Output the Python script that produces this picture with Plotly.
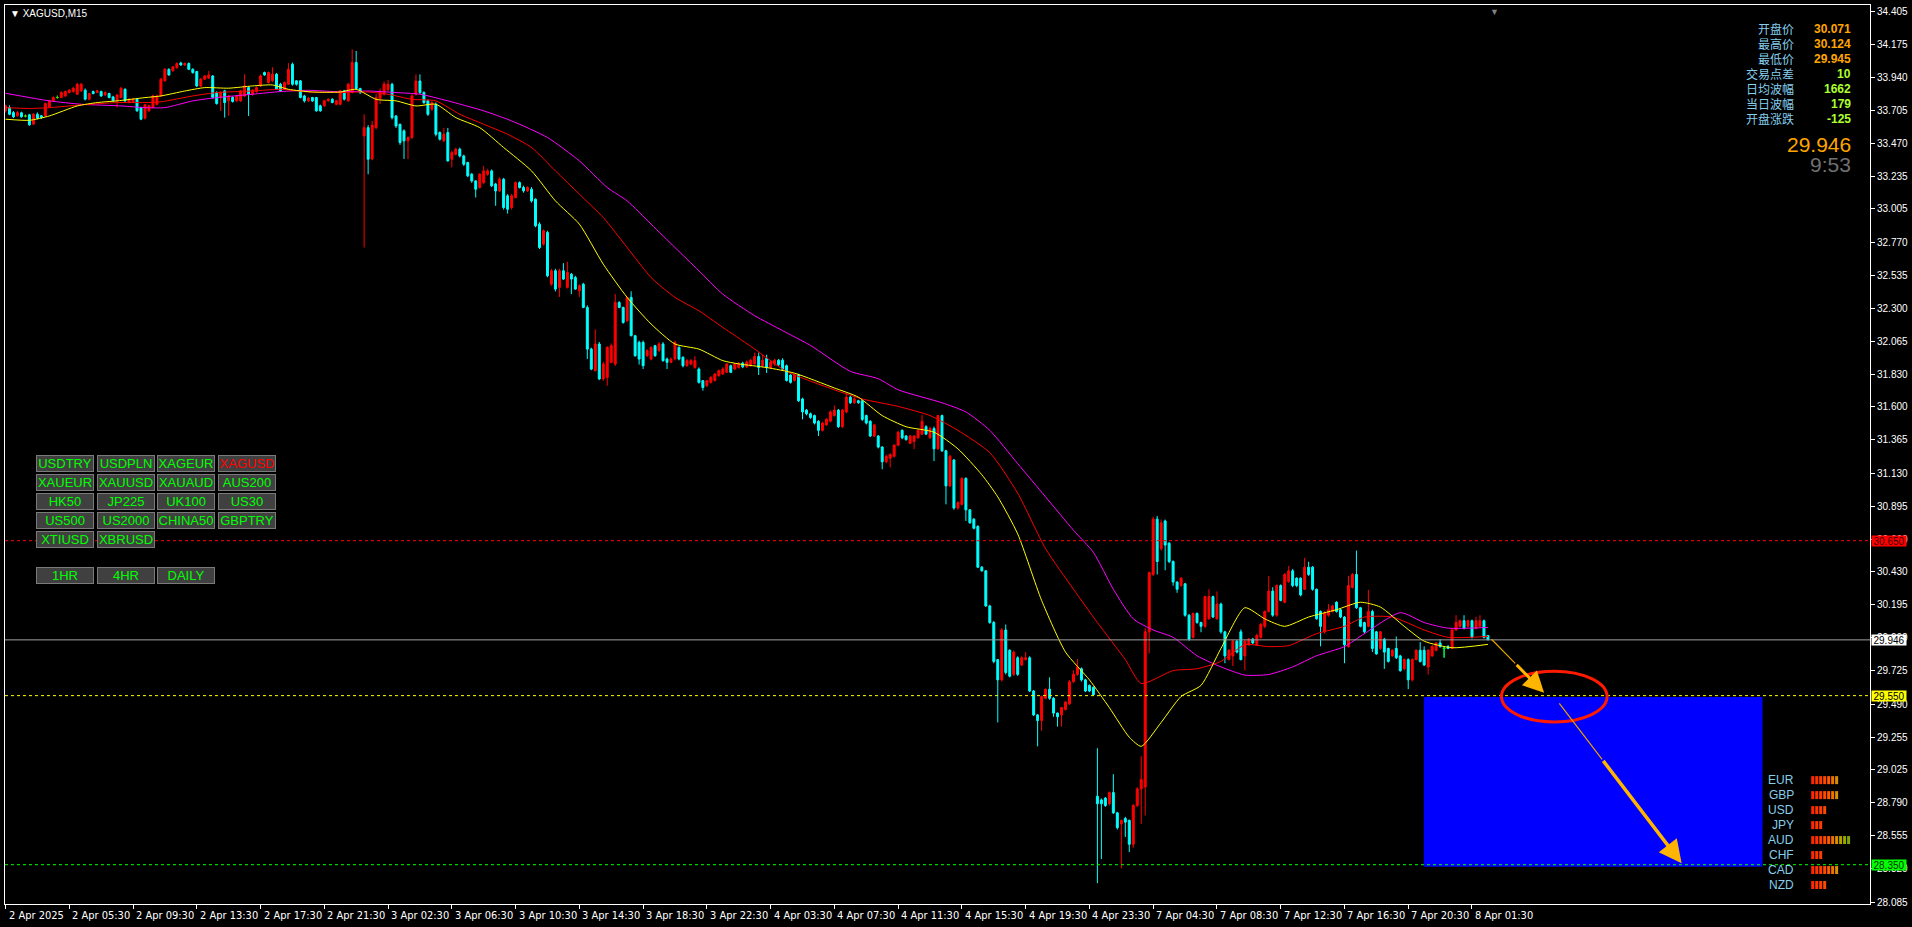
import plotly.graph_objects as go

# ---------------- data ----------------
opens = [
33.701,33.725,33.689,33.666,33.687,33.664,33.673,33.607,33.677,33.666,
33.666,33.729,33.772,33.796,33.796,33.807,33.831,33.838,33.819,33.843,
33.848,33.784,33.838,33.831,33.838,33.814,33.824,33.800,33.772,33.796,
33.855,33.760,33.765,33.784,33.725,33.649,33.701,33.725,33.748,33.807,
33.914,33.996,33.985,34.008,34.041,34.027,34.037,33.996,33.980,33.878,
33.926,33.933,33.949,33.831,33.796,33.843,33.772,33.796,33.772,33.772,
33.807,33.866,33.819,33.838,33.878,33.973,33.902,33.914,33.961,33.890,
33.855,33.890,34.032,33.914,33.914,33.807,33.772,33.796,33.796,33.737,
33.737,33.772,33.784,33.748,33.748,33.843,33.772,33.831,34.044,33.860,
33.523,33.582,33.360,33.582,33.790,33.819,33.850,33.890,33.665,33.606,
33.559,33.488,33.512,33.819,33.913,33.831,33.772,33.713,33.748,33.547,
33.488,33.547,33.358,33.393,33.429,33.381,33.334,33.251,33.204,33.157,
33.192,33.251,33.275,33.181,33.133,33.216,33.098,33.015,33.086,33.192,
33.157,33.133,33.145,33.074,32.897,32.755,32.838,32.471,32.566,32.448,
32.566,32.448,32.542,32.518,32.424,32.471,32.306,32.010,31.857,32.046,
31.798,31.809,31.916,31.904,32.341,32.306,32.211,32.377,32.105,32.058,
32.058,31.963,31.939,32.034,31.999,32.046,31.939,31.916,31.940,32.022,
31.951,31.892,31.904,31.880,31.868,31.786,31.750,31.774,31.786,31.821,
31.833,31.845,31.892,31.868,31.879,31.910,31.884,31.892,31.905,31.957,
31.892,31.944,31.879,31.905,31.931,31.931,31.892,31.826,31.787,31.826,
31.656,31.577,31.551,31.538,31.498,31.433,31.472,31.498,31.538,31.577,
31.459,31.564,31.669,31.629,31.643,31.643,31.538,31.498,31.393,31.393,
31.315,31.210,31.236,31.249,31.328,31.433,31.393,31.341,31.354,31.380,
31.406,31.459,31.380,31.446,31.302,31.538,31.288,31.039,31.223,30.882,
30.908,31.092,30.869,30.803,30.751,30.462,30.436,30.187,30.069,29.806,
29.662,30.016,29.872,29.701,29.819,29.767,29.806,29.819,29.583,29.413,
29.373,29.531,29.596,29.531,29.426,29.413,29.452,29.492,29.649,29.701,
29.741,29.662,29.622,29.609,28.836,28.810,28.823,28.783,28.862,28.718,
28.639,28.678,28.665,28.495,28.770,28.888,28.901,30.003,30.410,30.803,
30.593,30.790,30.632,30.502,30.357,30.331,30.344,30.121,29.964,30.134,
30.069,30.042,30.095,30.253,30.095,30.200,30.003,29.806,29.832,29.937,
30.003,29.832,29.911,29.951,29.911,29.964,30.042,30.147,30.292,30.121,
30.331,30.213,30.360,30.436,30.384,30.384,30.305,30.462,30.462,30.305,
30.147,30.003,30.121,30.147,30.213,30.160,30.108,29.898,30.318,30.410,
30.174,30.069,30.042,30.147,30.003,29.885,29.951,29.885,29.832,29.885,
29.832,29.741,29.806,29.662,29.806,29.872,29.872,29.754,29.832,29.872,
29.924,29.885,29.898,29.885,30.016,30.042,30.082,30.042,30.082,30.029,
30.042,30.082,29.977]

highs = [
33.745,33.740,33.700,33.700,33.695,33.675,33.680,33.685,33.690,33.672,
33.760,33.780,33.805,33.810,33.840,33.845,33.855,33.870,33.900,33.900,
33.860,33.830,33.845,33.850,33.845,33.840,33.830,33.808,33.820,33.870,
33.860,33.790,33.790,33.790,33.730,33.750,33.745,33.815,33.815,33.935,
34.005,34.003,34.020,34.045,34.050,34.045,34.045,34.003,33.985,33.935,
33.955,33.985,33.955,33.840,33.840,33.850,33.815,33.805,33.815,33.850,
33.961,33.875,33.855,33.875,33.960,33.980,33.980,34.010,33.970,33.900,
33.910,34.040,34.044,33.920,33.920,33.815,33.800,33.800,33.800,33.745,
33.780,33.790,33.790,33.780,33.850,33.850,33.900,34.138,34.126,33.865,
33.677,33.600,33.630,33.820,33.860,33.910,33.920,33.900,33.670,33.610,
33.570,33.520,33.820,33.960,33.960,33.840,33.780,33.770,33.760,33.555,
33.580,33.580,33.420,33.440,33.440,33.390,33.340,33.260,33.210,33.260,
33.310,33.290,33.285,33.190,33.230,33.225,33.110,33.110,33.200,33.200,
33.170,33.165,33.160,33.080,32.910,32.860,32.850,32.580,32.580,32.580,
32.620,32.630,32.550,32.530,32.470,32.480,32.320,32.020,32.150,32.060,
31.920,32.030,32.050,32.400,32.350,32.310,32.380,32.420,32.110,32.070,
32.070,32.010,32.030,32.040,32.060,32.060,31.950,31.950,32.070,32.030,
31.960,31.940,31.940,31.960,31.880,31.790,31.790,31.820,31.840,31.865,
31.880,31.910,31.900,31.910,31.920,31.920,31.930,31.940,31.985,31.985,
31.970,31.970,31.930,31.940,31.940,31.945,31.900,31.830,31.835,31.835,
31.665,31.585,31.560,31.545,31.505,31.495,31.520,31.575,31.610,31.585,
31.585,31.700,31.680,31.670,31.650,31.650,31.545,31.505,31.480,31.400,
31.320,31.260,31.270,31.335,31.430,31.440,31.400,31.400,31.400,31.440,
31.543,31.470,31.460,31.460,31.543,31.545,31.295,31.260,31.230,30.930,
31.100,31.100,30.875,30.810,30.760,30.470,30.440,30.195,30.080,29.810,
30.030,30.055,29.880,29.870,29.830,29.830,29.860,29.830,29.590,29.420,
29.550,29.600,29.680,29.540,29.430,29.470,29.510,29.660,29.730,29.810,
29.750,29.670,29.630,29.615,29.177,28.820,28.830,28.870,28.992,28.725,
28.670,28.690,28.670,28.780,28.900,29.120,30.030,30.430,30.820,30.826,
30.800,30.800,30.640,30.510,30.360,30.390,30.350,30.130,30.140,30.140,
30.075,30.260,30.305,30.260,30.290,30.210,30.010,29.880,29.945,29.945,
30.020,29.945,29.960,29.960,29.990,30.065,30.155,30.400,30.320,30.340,
30.340,30.420,30.470,30.450,30.390,30.390,30.528,30.500,30.470,30.310,
30.155,30.150,30.200,30.195,30.220,30.170,30.115,30.400,30.420,30.580,
30.180,30.075,30.300,30.160,30.010,30.010,29.960,29.890,29.880,29.970,
29.840,29.815,29.815,29.815,29.880,29.930,29.900,29.880,29.910,29.930,
29.950,29.900,29.910,30.025,30.121,30.090,30.121,30.090,30.090,30.110,
30.121,30.090,29.980]

lows = [
33.690,33.670,33.650,33.660,33.652,33.655,33.595,33.600,33.640,33.645,
33.660,33.725,33.765,33.788,33.790,33.800,33.825,33.830,33.815,33.835,
33.775,33.776,33.818,33.826,33.800,33.808,33.790,33.765,33.725,33.790,
33.765,33.755,33.758,33.695,33.635,33.640,33.695,33.720,33.740,33.800,
33.910,33.950,33.980,34.000,34.020,34.020,33.990,33.965,33.870,33.870,
33.920,33.928,33.790,33.745,33.700,33.653,33.665,33.760,33.765,33.765,
33.800,33.665,33.810,33.830,33.870,33.950,33.895,33.905,33.850,33.835,
33.850,33.885,33.880,33.880,33.790,33.760,33.765,33.765,33.695,33.695,
33.730,33.765,33.755,33.740,33.740,33.775,33.765,33.825,33.850,33.820,
32.731,33.251,33.350,33.570,33.750,33.810,33.840,33.640,33.580,33.460,
33.360,33.358,33.500,33.810,33.820,33.750,33.665,33.700,33.520,33.490,
33.480,33.340,33.300,33.385,33.370,33.310,33.230,33.190,33.086,33.150,
33.180,33.240,33.160,33.027,33.125,33.000,32.972,33.000,33.080,33.150,
33.120,33.125,33.050,32.875,32.720,32.745,32.520,32.460,32.420,32.380,
32.500,32.440,32.400,32.430,32.380,32.300,31.940,31.860,31.850,31.790,
31.786,31.750,31.910,31.890,32.300,32.190,32.200,32.100,31.955,31.900,
31.868,31.955,31.930,31.955,31.990,31.920,31.868,31.910,31.930,31.930,
31.880,31.885,31.895,31.870,31.765,31.715,31.740,31.765,31.780,31.815,
31.828,31.840,31.840,31.860,31.870,31.875,31.875,31.885,31.900,31.826,
31.880,31.840,31.870,31.890,31.890,31.860,31.780,31.765,31.780,31.635,
31.511,31.540,31.515,31.475,31.393,31.425,31.465,31.490,31.530,31.450,
31.450,31.555,31.620,31.620,31.620,31.500,31.475,31.385,31.385,31.305,
31.157,31.200,31.170,31.240,31.320,31.370,31.360,31.335,31.300,31.375,
31.400,31.400,31.375,31.215,31.295,31.280,30.908,31.030,30.870,30.870,
30.900,30.790,30.770,30.730,30.455,30.430,30.180,30.060,29.780,29.360,
29.650,29.700,29.680,29.690,29.690,29.760,29.800,29.575,29.405,29.190,
29.300,29.525,29.520,29.400,29.330,29.330,29.445,29.485,29.640,29.690,
29.650,29.575,29.575,29.550,28.219,28.390,28.760,28.770,28.710,28.600,
28.324,28.547,28.440,28.470,28.760,28.640,28.700,29.850,30.400,30.410,
30.580,30.440,30.490,30.330,30.280,30.320,30.110,29.940,29.955,30.060,
30.000,30.030,30.090,30.100,30.090,29.990,29.780,29.800,29.760,29.850,
29.800,29.730,29.905,29.915,29.905,29.955,30.030,30.140,30.110,30.110,
30.220,30.205,30.350,30.320,30.320,30.255,30.300,30.400,30.295,30.090,
29.900,29.990,30.110,30.140,30.140,30.100,29.780,29.890,30.310,30.165,
30.035,29.990,30.035,29.860,29.840,29.875,29.740,29.785,29.825,29.810,
29.720,29.730,29.596,29.650,29.800,29.785,29.760,29.700,29.825,29.865,
29.890,29.820,29.880,29.880,30.010,30.035,30.020,30.035,29.955,30.020,
30.035,29.955,29.945]

closes = [
33.737,33.677,33.659,33.689,33.659,33.664,33.602,33.677,33.649,33.654,
33.753,33.772,33.796,33.796,33.831,33.838,33.848,33.862,33.890,33.890,
33.784,33.824,33.824,33.843,33.807,33.831,33.796,33.772,33.814,33.862,
33.772,33.784,33.784,33.701,33.642,33.744,33.737,33.807,33.807,33.926,
33.996,33.956,34.013,34.037,34.027,34.037,33.996,33.973,33.878,33.926,
33.949,33.956,33.796,33.753,33.831,33.760,33.807,33.767,33.807,33.843,
33.878,33.819,33.848,33.866,33.949,33.956,33.973,33.961,33.855,33.843,
33.902,33.996,33.890,33.890,33.796,33.772,33.791,33.772,33.701,33.701,
33.772,33.784,33.760,33.772,33.843,33.784,33.890,34.044,33.860,33.830,
33.582,33.358,33.600,33.795,33.840,33.890,33.890,33.653,33.594,33.476,
33.488,33.512,33.807,33.913,33.831,33.760,33.677,33.760,33.535,33.500,
33.535,33.346,33.405,33.429,33.381,33.322,33.240,33.204,33.145,33.251,
33.275,33.275,33.169,33.133,33.216,33.015,33.003,33.098,33.192,33.157,
33.133,33.157,33.062,32.885,32.731,32.850,32.530,32.566,32.436,32.566,
32.507,32.554,32.507,32.436,32.460,32.306,32.010,31.868,32.046,31.798,
31.904,32.022,32.034,32.341,32.306,32.199,32.377,32.105,31.963,31.939,
31.892,31.999,32.022,31.963,32.046,31.928,31.916,31.939,32.058,31.939,
31.892,31.928,31.928,31.928,31.774,31.738,31.786,31.809,31.833,31.857,
31.868,31.904,31.845,31.904,31.905,31.884,31.918,31.931,31.957,31.879,
31.931,31.879,31.918,31.931,31.900,31.866,31.787,31.774,31.826,31.643,
31.564,31.551,31.525,31.485,31.433,31.485,31.511,31.564,31.577,31.459,
31.577,31.669,31.629,31.656,31.630,31.511,31.485,31.393,31.472,31.315,
31.210,31.249,31.262,31.328,31.420,31.380,31.367,31.393,31.393,31.433,
31.498,31.406,31.446,31.302,31.538,31.288,31.039,31.249,30.882,30.921,
31.092,30.869,30.777,30.738,30.462,30.436,30.187,30.069,29.793,29.662,
30.016,29.714,29.688,29.859,29.701,29.819,29.819,29.583,29.413,29.373,
29.544,29.596,29.531,29.426,29.400,29.465,29.505,29.649,29.701,29.754,
29.662,29.583,29.583,29.557,28.783,28.783,28.770,28.862,28.718,28.613,
28.665,28.652,28.495,28.770,28.888,28.954,30.003,30.423,30.803,30.502,
30.777,30.619,30.502,30.357,30.305,30.384,30.121,29.951,30.134,30.069,
30.042,30.253,30.253,30.108,30.200,30.003,29.832,29.872,29.937,29.859,
29.806,29.937,29.951,29.924,29.977,30.056,30.147,30.292,30.121,30.331,
30.226,30.410,30.436,30.331,30.331,30.265,30.462,30.410,30.305,30.095,
30.042,30.134,30.160,30.187,30.147,30.108,29.911,30.331,30.410,30.174,
30.042,30.003,30.147,29.885,29.846,30.003,29.859,29.793,29.872,29.819,
29.727,29.806,29.662,29.806,29.872,29.793,29.767,29.872,29.898,29.924,
29.898,29.885,29.885,30.016,30.069,30.082,30.029,30.082,29.964,30.082,
30.082,29.964,29.946]

doji_idx = [5, 13, 361]

yellow_idx = [0,6,11,18,23,28,35,39,45,50,56,62,67,71,77,84,88,93,98,103,108,113,119,125,132,138,144,150,156,162,
              168,174,180,184,191,198,208,214,220,226,233,239,245,249,254,260,266,272,277,282,285,290,295,300,305,311,
              316,321,327,334,340,345,351,356,363,372]
yellow_val = [33.642,33.634,33.665,33.736,33.760,33.772,33.795,33.807,33.842,33.866,33.862,33.878,33.885,33.854,33.835,
              33.835,33.854,33.783,33.772,33.736,33.748,33.653,33.582,33.441,33.275,33.062,32.897,32.613,32.377,32.188,
              32.046,32.010,31.928,31.905,31.879,31.839,31.734,31.669,31.538,31.459,31.420,31.302,31.118,30.961,30.698,
              30.226,29.859,29.662,29.465,29.255,29.190,29.360,29.544,29.623,29.885,30.174,30.095,30.042,30.108,30.160,
              30.213,30.179,30.042,29.937,29.890,29.914]
red_idx = [0,6,11,19,28,35,39,47,53,62,69,76,84,91,96,102,108,114,120,126,132,138,144,150,156,162,168,174,180,187,
           196,208,215,224,232,239,247,254,261,268,274,281,285,293,299,305,311,317,322,329,336,341,348,356,362,372]
red_val = [33.724,33.718,33.724,33.743,33.760,33.760,33.765,33.807,33.831,33.842,33.854,33.835,33.831,33.835,33.819,
           33.783,33.772,33.677,33.606,33.535,33.441,33.275,33.110,32.944,32.731,32.518,32.377,32.282,32.164,32.030,
           31.852,31.721,31.656,31.603,31.538,31.433,31.275,30.987,30.593,30.305,30.069,29.806,29.636,29.728,29.741,
           29.793,29.911,29.898,29.905,29.990,30.042,30.108,30.108,30.016,29.964,29.970]
mag_idx = [0,11,19,29,35,40,47,53,62,69,76,84,91,98,104,111,120,127,136,144,151,156,162,168,174,180,188,195,202,212,
           219,224,235,241,247,254,261,268,273,278,283,288,293,299,305,311,317,323,329,336,341,350,356,362,372]
mag_val = [33.826,33.772,33.748,33.736,33.724,33.724,33.772,33.795,33.819,33.838,33.847,33.836,33.842,33.831,33.819,
           33.772,33.701,33.630,33.512,33.346,33.157,33.062,32.897,32.731,32.566,32.400,32.247,32.141,32.036,31.852,
           31.800,31.721,31.629,31.564,31.433,31.197,30.961,30.724,30.567,30.305,30.095,30.016,29.964,29.833,29.754,
           29.696,29.700,29.754,29.833,29.898,29.990,30.139,30.069,30.029,30.034]

time_tick_idx = [0,16,32,48,64,80,96,112,128,144,160,176,192,208,224,240,256,272,288,304,320,336,352,368]
time_tick_text = ["2 Apr 2025","2 Apr 05:30","2 Apr 09:30","2 Apr 13:30","2 Apr 17:30","2 Apr 21:30",
                  "3 Apr 02:30","3 Apr 06:30","3 Apr 10:30","3 Apr 14:30","3 Apr 18:30","3 Apr 22:30",
                  "4 Apr 03:30","4 Apr 07:30","4 Apr 11:30","4 Apr 15:30","4 Apr 19:30","4 Apr 23:30",
                  "7 Apr 04:30","7 Apr 08:30","7 Apr 12:30","7 Apr 16:30","7 Apr 20:30","8 Apr 01:30"]
price_ticks = [34.405,34.175,33.940,33.705,33.470,33.235,33.005,32.770,32.535,32.300,32.065,31.830,31.600,31.365,
               31.130,30.895,30.660,30.430,30.195,29.960,29.725,29.490,29.255,29.025,28.790,28.555,28.320,28.085]

last_price = 29.946
resistance = 30.650
support = 29.550
target = 28.350

zone_idx = [355.9, 440.9]
zone_price = [28.335, 29.540]
ellipse_idx = [375.4, 401.9]
ellipse_price = [29.363, 29.724]
arrow1_idx = [372.9, 386.1]
arrow1_price = [29.950, 29.570]
arrow2_idx = [389.9, 420.6]
arrow2_price = [29.495, 28.360]

info_labels = ["开盘价", "最高价", "最低价", "交易点差", "日均波幅", "当日波幅", "开盘涨跌"]
info_values = ["30.071", "30.124", "29.945", "10", "1662", "179", "-125"]
info_colors = ["#FFA500", "#FFA500", "#FFA500", "#ADFF2F", "#ADFF2F", "#ADFF2F", "#ADFF2F"]
bid_text = "29.946"
timer_text = "9:53"

button_rows = [["USDTRY", "USDPLN", "XAGEUR", "XAGUSD"],
               ["XAUEUR", "XAUUSD", "XAUAUD", "AUS200"],
               ["HK50", "JP225", "UK100", "US30"],
               ["US500", "US2000", "CHINA50", "GBPTRY"],
               ["XTIUSD", "XBRUSD"]]
timeframe_buttons = ["1HR", "4HR", "DAILY"]
active_symbol = "XAGUSD"

currencies = ["EUR", "GBP", "USD", "JPY", "AUD", "CHF", "CAD", "NZD"]
strength = [7, 7, 4, 3, 10, 3, 7, 4]
strength_colors = ["#FF2800", "#FF3200", "#FF3C00", "#FF4800", "#FF5A00", "#F07000", "#D89000", "#B8A000",
                   "#98A800", "#7CA800"]

# ---------------- layout geometry ----------------
W, H = 1912, 927
ML, MT, MR, MB = 5, 4, 35, 23
PW, PH = W - ML - MR, H - MT - MB


def px_x(px):
    return (px - ML) / PW


def px_y(py):
    return 1 - (py - MT) / PH


FONT = "Liberation Sans, Arial, sans-serif"
NARROW = "Liberation Sans Narrow, DejaVu Sans Condensed, Arial Narrow, sans-serif"
CJK = "Noto Sans CJK SC, sans-serif"

n = len(opens)
idx = list(range(n))

fig = go.Figure()

fig.add_trace(go.Candlestick(
    x=idx, open=opens, high=highs, low=lows, close=closes,
    increasing=dict(line=dict(color="#FF0000", width=1), fillcolor="#FF0000"),
    decreasing=dict(line=dict(color="#00FFFF", width=1), fillcolor="#00FFFF"),
    whiskerwidth=0, hoverinfo="skip", showlegend=False))

# doji candles drawn in green
dx, dy = [], []
for i in doji_idx:
    dx += [i, i, None, i - 0.35, i + 0.35, None]
    dy += [lows[i], highs[i], None, opens[i], opens[i], None]
fig.add_trace(go.Scatter(x=dx, y=dy, mode="lines", line=dict(color="#00FF00", width=1),
                         hoverinfo="skip", showlegend=False))

for xs, ys, col in [(mag_idx, mag_val, "#FF00FF"), (red_idx, red_val, "#FF0000"), (yellow_idx, yellow_val, "#FFFF00")]:
    fig.add_trace(go.Scatter(x=xs, y=ys, mode="lines", line=dict(color=col, width=1, shape="spline", smoothing=0.6),
                             hoverinfo="skip", showlegend=False))

shapes = []
# target zone
shapes.append(dict(type="rect", xref="x", yref="y", x0=zone_idx[0], x1=zone_idx[1], y0=zone_price[0],
                   y1=zone_price[1], fillcolor="#0000FF", line=dict(width=0), layer="above"))
# horizontal levels
for lvl, col, dash in [(resistance, "#FF0000", "3px,3px"), (support, "#FFFF00", "3px,3px"),
                       (target, "#00FF00", "3px,3px")]:
    shapes.append(dict(type="line", xref="paper", yref="y", x0=0, x1=1, y0=lvl, y1=lvl,
                       line=dict(color=col, width=1, dash=dash)))
shapes.append(dict(type="line", xref="paper", yref="y", x0=0, x1=1, y0=last_price, y1=last_price,
                   line=dict(color="#A0A0A0", width=1)))
# ellipse
shapes.append(dict(type="circle", xref="x", yref="y", x0=ellipse_idx[0], x1=ellipse_idx[1],
                   y0=ellipse_price[0], y1=ellipse_price[1], line=dict(color="#FF1A00", width=3)))


def mid(a, b, t):
    return a + (b - a) * t


# thin tails of arrows
for ai, ap, t in [(arrow1_idx, arrow1_price, 0.45), (arrow2_idx, arrow2_price, 0.35)]:
    shapes.append(dict(type="line", xref="x", yref="y", x0=ai[0], y0=ap[0],
                       x1=mid(ai[0], ai[1], t), y1=mid(ap[0], ap[1], t),
                       line=dict(color="#E8A000", width=1.2)))

# currency strength bars
for r, cnt in enumerate(strength):
    cy = 780 + 15 * r
    for k in range(cnt):
        x0 = 1818 + 4 * k
        shapes.append(dict(type="rect", xref="paper", yref="paper", x0=px_x(x0), x1=px_x(x0 + 3),
                           y0=px_y(cy + 4), y1=px_y(cy - 4), fillcolor=strength_colors[k],
                           line=dict(width=0)))

ann = []
# arrow heads
for ai, ap, t, w, s in [(arrow1_idx, arrow1_price, 0.45, 3, 1.4), (arrow2_idx, arrow2_price, 0.35, 3.5, 1.3)]:
    ann.append(dict(x=ai[1], y=ap[1], ax=mid(ai[0], ai[1], t), ay=mid(ap[0], ap[1], t), xref="x", yref="y",
                    axref="x", ayref="y", text="", showarrow=True, arrowhead=2, arrowsize=s, arrowwidth=w,
                    arrowcolor="#FFB400", standoff=0))

# title
ann.append(dict(x=px_x(8), y=px_y(12.5), xref="paper", yref="paper", xanchor="left", yanchor="middle",
                text="▼ XAGUSD,M15", showarrow=False, font=dict(family=FONT, size=10, color="#FFFFFF")))
# chart shift marker
ann.append(dict(x=373.6, y=1, xref="x", yref="paper", xanchor="center", yanchor="top", text="▼",
                showarrow=False, font=dict(family=FONT, size=9, color="#808080")))

# info panel
for r, (lab, val, col) in enumerate(zip(info_labels, info_values, info_colors)):
    cy = 28 + 15 * r
    ann.append(dict(x=px_x(1803), y=px_y(cy), xref="paper", yref="paper", xanchor="right", yanchor="middle",
                    text=lab, showarrow=False, font=dict(family=CJK, size=12, color="#87CEEB")))
    ann.append(dict(x=px_x(1860), y=px_y(cy), xref="paper", yref="paper", xanchor="right", yanchor="middle",
                    text="<b>%s</b>" % val, showarrow=False, font=dict(family=FONT, size=12, color=col)))
ann.append(dict(x=px_x(1860), y=px_y(144), xref="paper", yref="paper", xanchor="right", yanchor="middle",
                text=bid_text, showarrow=False, font=dict(family=FONT, size=21, color="#FFA500")))
ann.append(dict(x=px_x(1860), y=px_y(164), xref="paper", yref="paper", xanchor="right", yanchor="middle",
                text=timer_text, showarrow=False, font=dict(family=FONT, size=21, color="#707070")))

# price boxes on the axis
for lvl, bg, fg in [(resistance, "#FF0000", "#3A0000"), (last_price, "#FFFFFF", "#000000"),
                    (support, "#FFFF00", "#000000"), (target, "#00FF00", "#003000")]:
    ann.append(dict(x=px_x(1878), y=lvl, xref="paper", yref="y", xanchor="left", yanchor="middle",
                    text="%.3f" % lvl, showarrow=False, bgcolor=bg, borderpad=0, width=34, height=10,
                    font=dict(family=FONT, size=10, color=fg)))

# buttons
def add_button(label, left, top, color):
    ann.append(dict(x=px_x(left), y=px_y(top), xref="paper", yref="paper", xanchor="left", yanchor="top",
                    text=label, showarrow=False, bgcolor="#404040", bordercolor="#7A7A7A", borderwidth=1,
                    borderpad=0, width=56, height=15, align="center",
                    font=dict(family=FONT, size=13, color=color)))


for r, row in enumerate(button_rows):
    for c, label in enumerate(row):
        add_button(label, 36 + 61 * c, 455 + 19 * r, "#FF0000" if label == active_symbol else "#00FF00")
for c, label in enumerate(timeframe_buttons):
    add_button(label, 36 + 61 * c, 567, "#00FF00")

# currency labels
for r, cur in enumerate(currencies):
    ann.append(dict(x=px_x(1803), y=px_y(780 + 15 * r), xref="paper", yref="paper", xanchor="right",
                    yanchor="middle", text=cur, showarrow=False, font=dict(family=FONT, size=12, color="#87CEEB")))

# time labels
for ti, tt in zip(time_tick_idx, time_tick_text):
    ann.append(dict(x=ti, y=0, xref="x", yref="paper", xanchor="left", yanchor="top", xshift=1, yshift=-3,
                    text=tt, showarrow=False, font=dict(family=NARROW, size=11, color="#FFFFFF")))

fig.update_layout(
    width=W, height=H, autosize=False,
    margin=dict(l=ML, r=MR, t=MT, b=MB, pad=0),
    paper_bgcolor="#000000", plot_bgcolor="#000000",
    showlegend=False, hovermode=False,
    shapes=shapes, annotations=ann,
    xaxis=dict(range=[-0.125, 467.875], showgrid=False, zeroline=False, showline=True, linecolor="#FFFFFF",
               linewidth=1, mirror=True, ticks="outside", ticklen=4, tickcolor="#FFFFFF",
               tickvals=time_tick_idx, showticklabels=False, rangeslider=dict(visible=False), fixedrange=True),
    yaxis=dict(range=[28.071, 34.4525], side="right", showgrid=False, zeroline=False, showline=True,
               linecolor="#FFFFFF", linewidth=1, mirror=True, ticks="outside", ticklen=4, tickcolor="#FFFFFF",
               tickvals=price_ticks, ticktext=["%.3f" % v for v in price_ticks],
               tickfont=dict(family=FONT, size=10, color="#FFFFFF"), fixedrange=True),
)

fig.write_html("out.html", config={"displayModeBar": False, "staticPlot": True},
               post_script="document.body.style.margin='0';document.body.style.overflow='hidden';")
